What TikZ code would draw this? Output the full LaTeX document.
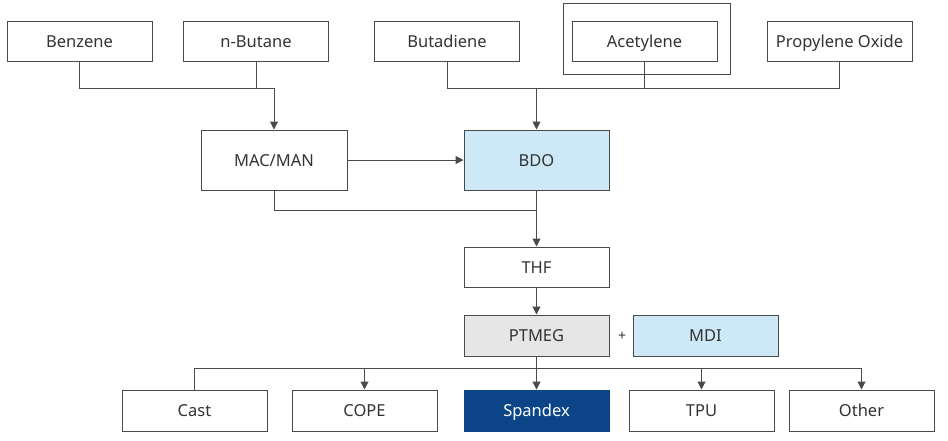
\documentclass[tikz,border=0pt]{standalone}
\usepackage{fontspec}
\setmainfont{Noto Sans}
\usetikzlibrary{arrows.meta,positioning}
\definecolor{lineGray}{HTML}{4A4A4A}
\definecolor{textGray}{HTML}{333333}
\definecolor{lightBlue}{HTML}{CDE9F7}
\definecolor{lightGray}{HTML}{E6E6E6}
\definecolor{darkBlue}{HTML}{0B4588}
\tikzset{chem/.style={rectangle,draw=lineGray,fill=white,line width=1pt,minimum width=145pt,minimum height=40pt,inner sep=0pt,text=textGray,text height=12pt,text depth=0pt,font=\fontsize{16.5}{19}\selectfont}}
\tikzset{tall/.style={chem,minimum height=60pt}}
\tikzset{toArrow/.style={-{Triangle[length=8pt,width=8pt]},line width=1pt,draw=lineGray}}
\tikzset{link/.style={line width=1pt,draw=lineGray}}
\begin{document}
\begin{tikzpicture}[x=1pt,y=-1pt]
\useasboundingbox (0,0) rectangle (948,440);
	% raw materials
	\node (acetframe) [rectangle,draw=lineGray,line width=1pt,minimum width=167pt,minimum height=71pt] at (646.5,38.5) {};
	\node (benzene) [chem] at (79.5,41) {Benzene};
	\node (nbutane) [chem] at (256,41) {n-Butane};
	\node (butadiene) [chem] at (447,41) {Butadiene};
	\node (acetylene) [chem] at (644.5,41) {Acetylene};
	\node (propox) [chem] at (839.5,41) {Propylene Oxide};
	% intermediates
	\node (macman) [tall,minimum width=146pt] at (274,160) {MAC/MAN};
	\node (bdo) [tall,fill=lightBlue] at (536.5,160) {BDO};
	\node (thf) [chem] at (536.5,267) {THF};
	\node (ptmeg) [chem,fill=lightGray,minimum height=41pt] at (536.5,335.5) {PTMEG};
	\node (plus) [text=textGray,font=\fontsize{14}{16}\selectfont] at (622,336) {+};
	\node (mdi) [chem,fill=lightBlue,minimum height=41pt] at (705.5,335.5) {MDI};
	% end uses
	\node (cast) [chem,minimum height=41pt] at (194.5,410.5) {Cast};
	\node (cope) [chem,minimum height=41pt] at (364.5,410.5) {COPE};
	\node (spandex) [chem,fill=darkBlue,draw=darkBlue,text=white,minimum height=41pt] at (536.5,410.5) {Spandex};
	\node (tpu) [chem,minimum height=41pt] at (701.5,410.5) {TPU};
	\node (other) [chem,minimum height=41pt] at (861.5,410.5) {Other};
	% junctions
	\coordinate (jleft) at (274,88);
	\coordinate (jright) at (536.5,88);
	\coordinate (jmid) at (536.5,210);
	\coordinate (jlow) at (536.5,368);
	% connectors
	\draw [link] (benzene.south) |- (jleft);
	\draw [link] (nbutane.south) -- (nbutane.south |- jleft);
	\draw [toArrow] (jleft) -- (macman.north);
	\draw [link] (butadiene.south) |- (propox.south |- jright) -- (propox.south);
	\draw [link] (acetylene.south) -- (acetylene.south |- jright);
	\draw [toArrow] (jright) -- (bdo.north);
	\draw [toArrow] (macman) -- (bdo);
	\draw [link] (macman.south) |- (jmid);
	\draw [toArrow] (bdo.south) -- (thf.north);
	\draw [toArrow] (thf) -- (ptmeg);
	\draw [link] (cast.north) |- (other.north |- jlow);
	\draw [toArrow] (ptmeg) -- (spandex);
	\foreach \n in {cope,tpu,other}
		\draw [toArrow] (\n.north |- jlow) -- (\n.north);
\end{tikzpicture}
\end{document}
